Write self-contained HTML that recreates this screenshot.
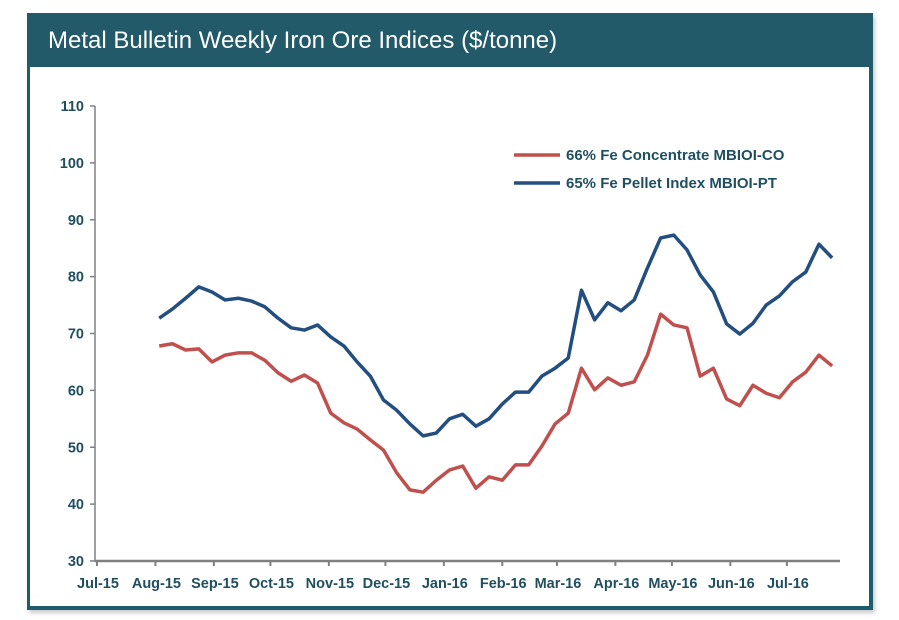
<!DOCTYPE html>
<html><head><meta charset="utf-8"><style>
body{margin:0;background:#fff;width:899px;height:620px;overflow:hidden;font-family:"Liberation Sans",sans-serif}
</style></head><body>
<div style="position:absolute;left:27px;top:13px;width:846px;height:597px;background:#fff;box-shadow:2px 3px 4px #ccc"></div>
<div style="position:absolute;left:27px;top:13px;width:846px;height:54px;background:#225a69;color:#fff;font-size:24px;line-height:56px;text-indent:21px">Metal Bulletin Weekly Iron Ore Indices ($/tonne)</div>
<div style="position:absolute;left:27px;top:67px;width:3px;height:543px;background:#1e5b6b"></div>
<div style="position:absolute;left:869px;top:67px;width:4px;height:543px;background:#1e5b6b"></div>
<div style="position:absolute;left:27px;top:606px;width:846px;height:4px;background:#1e5b6b"></div>
<svg id="c" width="899" height="620" style="position:absolute;left:0;top:0"></svg>
<script>
const yTicks=[30,40,50,60,70,80,90,100,110];
const monthLabels=["Jul-15","Aug-15","Sep-15","Oct-15","Nov-15","Dec-15","Jan-16","Feb-16","Mar-16","Apr-16","May-16","Jun-16","Jul-16"];
const monthDays=[0,31,62,92,123,153,184,215,244,275,305,336,366];
const firstDay=33;
const pellet=[72.7,74.3,76.2,78.2,77.3,75.9,76.2,75.7,74.7,72.7,71.0,70.6,71.5,69.4,67.8,65.0,62.5,58.3,56.5,54.1,52.0,52.5,55.0,55.8,53.7,55.0,57.6,59.7,59.7,62.5,63.9,65.7,77.6,72.4,75.4,74.0,75.9,81.5,86.8,87.3,84.7,80.3,77.3,71.7,69.9,71.8,75.0,76.6,79.1,80.8,85.7,83.3];
const conc=[67.8,68.2,67.1,67.3,65.0,66.2,66.6,66.6,65.3,63.1,61.6,62.7,61.3,56.0,54.3,53.2,51.3,49.5,45.5,42.5,42.1,44.2,46.0,46.7,42.8,44.8,44.2,46.9,46.9,50.2,54.1,56.0,63.9,60.1,62.2,60.9,61.5,66.2,73.4,71.5,71.0,62.5,63.9,58.5,57.3,60.9,59.5,58.7,61.5,63.2,66.2,64.3];
const svg=document.getElementById('c');const NS='http://www.w3.org/2000/svg';
const X=d=>97+d*1.885, Y=v=>561-(v-30)*5.6875;
function mk(t,a,p){const e=document.createElementNS(NS,t);for(const k in a)e.setAttribute(k,a[k]);(p||svg).appendChild(e);return e;}
const C='#1f4f60';
const ya=mk('line',{x1:95,y1:Y(110),x2:95,y2:561,stroke:'#808080','stroke-width':1.5});


yTicks.forEach(v=>{mk('line',{x1:90,x2:95,y1:Y(v),y2:Y(v),stroke:'#808080','stroke-width':1.5});
const t=mk('text',{x:84,y:Y(v)+5,'text-anchor':'end','font-size':14.5,'font-weight':'bold',fill:C});t.textContent=v;

});
const xa=mk('line',{x1:95,y1:561,x2:840,y2:561,stroke:'#808080','stroke-width':2.5});


monthDays.forEach((d,i)=>{mk('line',{x1:X(d),x2:X(d),y1:561,y2:566,stroke:'#808080','stroke-width':2});
const t=mk('text',{x:X(d)+1,y:588,'text-anchor':'middle','font-size':14.5,'font-weight':'bold',fill:C});t.textContent=monthLabels[i];

});
function line(arr,col,name){const p=mk('polyline',{points:arr.map((v,i)=>X(firstDay+i*7)+','+Y(v)).join(' '),fill:'none',stroke:col,'stroke-width':3.5,'stroke-linejoin':'round'});

}
line(pellet,'#234e80','pellet-line');
line(conc,'#c0504d','concentrate-line');
[['#c0504d','66% Fe Concentrate MBIOI-CO',155],['#234e80','65% Fe Pellet Index MBIOI-PT',183]].forEach(([c,l,y])=>{
const g=mk('g',{});
mk('line',{x1:514,x2:560,y1:y,y2:y,stroke:c,'stroke-width':3.5},g);
const t=mk('text',{x:566,y:y+5,'font-size':15,'font-weight':'bold',fill:C},g);t.textContent=l;});
</script>
</body></html>
